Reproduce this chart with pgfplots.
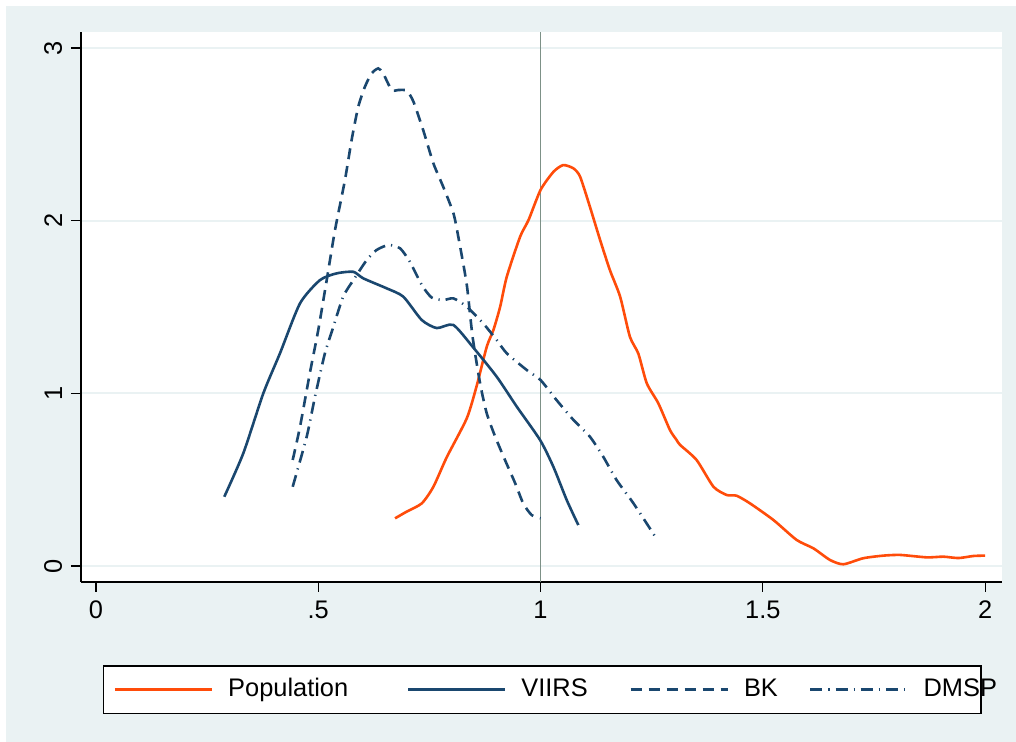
\documentclass[border=0pt]{standalone}
\usepackage{pgfplots}
\pgfplotsset{compat=1.18}
\usepackage{fontspec}
\setmainfont{Liberation Sans}
\definecolor{bgc}{RGB}{234,242,243}
\definecolor{gridc}{RGB}{234,242,243}
\definecolor{navyc}{RGB}{26,71,111}
\definecolor{orredc}{RGB}{255,76,10}
\definecolor{vlinec}{RGB}{125,145,135}
\begin{document}
\fontsize{12.7bp}{15bp}\selectfont
\begin{tikzpicture}
\useasboundingbox (0,0) rectangle (508bp,371bp);
\fill[white] (0,0) rectangle (508bp,371bp);
\fill[bgc] (3bp,0) rectangle (508bp,368bp);
\begin{axis}[
  at={(40.5bp,80bp)}, anchor=south west,
  scale only axis, width=460.5bp, height=275bp,
  xmin=-0.0337, xmax=2.038, ymin=-0.0927, ymax=3.093,
  axis background/.style={fill=white},
  axis x line*=bottom, axis y line*=left,
  axis line style={black, line width=0.6bp, -},
  xtick={0,0.5,1,1.5,2}, xticklabels={0,.5,1,1.5,2},
  ytick={0,1,2,3}, yticklabels={0,1,2,3},
  tick align=outside, major tick length=5bp,
  tick style={black, line width=0.6bp},
  ymajorgrids, grid style={gridc, line width=1bp},
  yticklabel style={rotate=90, anchor=south},
  /pgf/number format/assume math mode=true,
  legend columns=4,
  legend cell align=left,
  legend style={at={(0.02345,-0.24)}, anchor=south west, draw=black, line width=0.6bp,
    fill=white, inner xsep=5.2bp, inner ysep=6.3bp,
    nodes={inner sep=0pt},
    /tikz/every odd column/.append style={column sep=7.5bp}},
  legend image code/.code={\draw[#1] (0bp,0bp) -- (48.5bp,0bp);},
  every axis plot/.append style={smooth, tension=0.4},
]
\addplot[vlinec, line width=0.8bp, forget plot, sharp plot] coordinates {(1,-0.0927) (1,3.093)};

\addplot[orredc, line width=1.3bp] coordinates {
(0.6727,0.276) (0.699,0.315) (0.733,0.363) (0.759,0.459) (0.789,0.63) (0.834,0.855)
(0.856,1.04) (0.879,1.27) (0.894,1.367) (0.909,1.50) (0.924,1.675) (0.954,1.907)
(0.973,2.004) (1.0,2.178) (1.029,2.283) (1.051,2.322) (1.074,2.303) (1.089,2.255)
(1.111,2.081) (1.134,1.888) (1.156,1.714) (1.179,1.560) (1.201,1.328) (1.22,1.23)
(1.239,1.058) (1.265,0.942) (1.291,0.788) (1.306,0.730) (1.314,0.701) (1.351,0.614)
(1.389,0.459) (1.419,0.411) (1.441,0.407) (1.471,0.363) (1.524,0.266) (1.576,0.151)
(1.614,0.102) (1.651,0.035) (1.681,0.010) (1.726,0.045) (1.771,0.060) (1.809,0.064)
(1.869,0.050) (1.906,0.054) (1.940,0.046) (1.974,0.058) (2.0,0.060)};
\addlegendentry{\makebox[89.3bp][l]{Population}}

\addplot[navyc, line width=1.3bp] coordinates {
(0.2886,0.401) (0.3314,0.653) (0.3764,1.000) (0.4139,1.232) (0.4589,1.521) (0.5039,1.656)
(0.5415,1.695) (0.5789,1.704) (0.6013,1.666) (0.654,1.608) (0.6913,1.560) (0.7327,1.425)
(0.7665,1.378) (0.8038,1.396) (0.8488,1.265) (0.9015,1.096) (0.9465,0.923) (0.9989,0.730)
(1.0288,0.575) (1.0589,0.382) (1.085,0.237)};
\addlegendentry{\makebox[54bp][l]{VIIRS}}

\addplot[navyc, line width=1.3bp, dash pattern=on 5.5bp off 3.5bp] coordinates {
(0.4425,0.614) (0.459,0.807) (0.481,1.116) (0.5,1.367) (0.519,1.656) (0.5377,1.946)
(0.560,2.235) (0.575,2.467) (0.590,2.660) (0.605,2.776) (0.620,2.853) (0.635,2.882)
(0.646,2.853) (0.665,2.757) (0.680,2.757) (0.699,2.753) (0.714,2.690) (0.736,2.525)
(0.759,2.332) (0.781,2.197) (0.804,2.043) (0.815,1.907) (0.834,1.63) (0.847,1.33)
(0.864,1.058) (0.879,0.884) (0.898,0.749) (0.920,0.614) (0.943,0.479) (0.961,0.363)
(0.980,0.295) (1.0,0.276)};
\addlegendentry{\makebox[32.5bp][l]{BK}}

\addplot[navyc, line width=1.3bp, dash pattern=on 6bp off 3bp on 0.6bp off 3bp] coordinates {
(0.4425,0.459) (0.474,0.749) (0.4927,0.981) (0.515,1.232) (0.534,1.386) (0.556,1.560)
(0.579,1.656) (0.609,1.772) (0.631,1.830) (0.658,1.859) (0.684,1.840) (0.706,1.762)
(0.733,1.627) (0.755,1.555) (0.781,1.540) (0.804,1.550) (0.834,1.502) (0.871,1.405)
(0.901,1.310) (0.924,1.232) (0.969,1.135) (1.0,1.077) (1.036,0.961) (1.074,0.846)
(1.111,0.749) (1.141,0.633) (1.171,0.498) (1.209,0.363) (1.258,0.170)};
\addlegendentry{\makebox[23.5bp][l]{DMSP}}
\end{axis}
\end{tikzpicture}
\end{document}
